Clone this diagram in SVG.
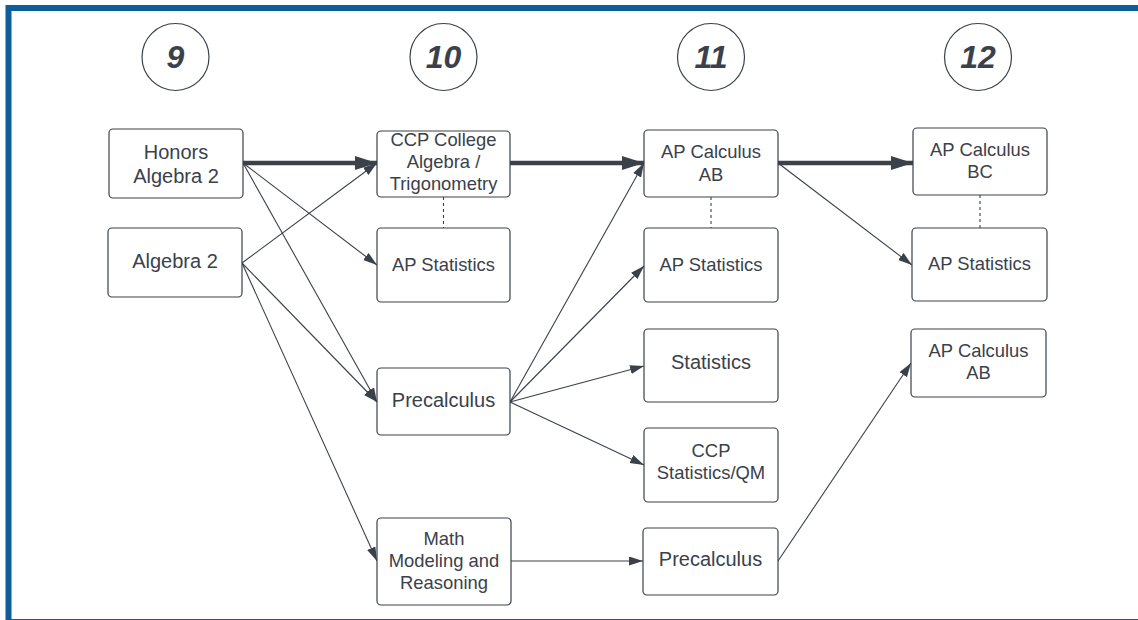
<svg xmlns="http://www.w3.org/2000/svg" width="1138" height="620" viewBox="0 0 1138 620">
<style>
  .frame{fill:#ffffff;stroke:#0c5f99;stroke-width:6}
  .box{fill:#ffffff;stroke:#3a414a;stroke-width:1.2}
  .circ{fill:#ffffff;stroke:#3a414a;stroke-width:1.2}
  text{font-family:"Liberation Sans",Arial,sans-serif;fill:#3a414a;text-anchor:middle}
  .t20{font-size:20px}
  .t18{font-size:18.4px}
  .t17{font-size:18.4px}
  .num{font-size:32px;font-weight:bold;font-style:italic}
  .thin{fill:none;stroke:#3a414a;stroke-width:1.1;marker-end:url(#ah)}
  .thick{fill:none;stroke:#3a414a;stroke-width:4.5;marker-end:url(#ahb)}
  .dash{fill:none;stroke:#3a414a;stroke-width:1.1;stroke-dasharray:3 3}
</style>
<defs>
  <marker id="ah" markerUnits="userSpaceOnUse" markerWidth="15" markerHeight="10" refX="14" refY="4.5" orient="auto">
    <path d="M0,0 L14,4.5 L0,9 z" fill="#3a414a"/>
  </marker>
  <marker id="ahb" markerUnits="userSpaceOnUse" markerWidth="23" markerHeight="15" refX="22" refY="7" orient="auto">
    <path d="M0,0 L22,7 L0,14 z" fill="#3a414a"/>
  </marker>
</defs>
<rect class="frame" x="8.5" y="8" width="1140" height="614"/>

<g id="grade9"><circle class="circ" cx="175.5" cy="57" r="33.5"/><text class="num" x="175.5" y="68">9</text></g>
<g id="grade10"><circle class="circ" cx="443.5" cy="57" r="33.5"/><text class="num" x="443.5" y="68">10</text></g>
<g id="grade11"><circle class="circ" cx="711" cy="57" r="33.5"/><text class="num" x="711" y="68">11</text></g>
<g id="grade12"><circle class="circ" cx="978" cy="57" r="33.5"/><text class="num" x="978" y="68">12</text></g>

<g id="connectors">
  <line class="thick" x1="243" y1="163" x2="377" y2="163"/>
  <line class="thick" x1="510" y1="163" x2="644" y2="163"/>
  <line class="thick" x1="778" y1="163" x2="913" y2="163"/>
  <line class="thin" x1="243" y1="163" x2="377" y2="265"/>
  <line class="thin" x1="243" y1="163" x2="377" y2="402"/>
  <line class="thin" x1="242" y1="263" x2="377" y2="163"/>
  <line class="thin" x1="242" y1="263" x2="377" y2="402"/>
  <line class="thin" x1="242" y1="263" x2="377" y2="561"/>
  <line class="thin" x1="510" y1="402" x2="644" y2="163"/>
  <line class="thin" x1="510" y1="402" x2="644" y2="266"/>
  <line class="thin" x1="510" y1="402" x2="644" y2="366"/>
  <line class="thin" x1="510" y1="402" x2="644" y2="465"/>
  <line class="thin" x1="778" y1="163" x2="912" y2="265"/>
  <line class="thin" x1="511" y1="561" x2="643" y2="561"/>
  <line class="thin" x1="778" y1="561" x2="911" y2="363"/>
  <line class="dash" x1="443.5" y1="197" x2="443.5" y2="228"/>
  <line class="dash" x1="711" y1="197" x2="711" y2="228"/>
  <line class="dash" x1="980" y1="195" x2="980" y2="228"/>
</g>

<g id="honors-algebra2"><rect class="box" x="109" y="129" width="134" height="69" rx="4"/><text class="t20" x="176" y="159">Honors</text><text class="t20" x="176" y="183">Algebra 2</text></g>
<g id="algebra2"><rect class="box" x="108" y="228" width="134" height="69" rx="4"/><text class="t20" x="175" y="268">Algebra 2</text></g>

<g id="ccp-college-algebra"><rect class="box" x="377" y="131" width="133" height="66" rx="4"/><text class="t18" x="443.5" y="146">CCP College</text><text class="t18" x="443.5" y="168">Algebra /</text><text class="t18" x="443.5" y="190">Trigonometry</text></g>
<g id="ap-statistics-10"><rect class="box" x="377" y="228" width="133" height="74" rx="4"/><text class="t17" x="443.5" y="271">AP Statistics</text></g>
<g id="precalculus-10"><rect class="box" x="377" y="368" width="133" height="67" rx="4"/><text class="t20" x="443.5" y="407">Precalculus</text></g>
<g id="math-modeling"><rect class="box" x="377" y="518" width="134" height="87" rx="4"/><text class="t18" x="444" y="545">Math</text><text class="t18" x="444" y="567">Modeling and</text><text class="t18" x="444" y="589">Reasoning</text></g>

<g id="ap-calculus-ab-11"><rect class="box" x="644" y="130" width="134" height="67" rx="4"/><text class="t18" x="711" y="158">AP Calculus</text><text class="t18" x="711" y="181">AB</text></g>
<g id="ap-statistics-11"><rect class="box" x="644" y="228" width="134" height="74" rx="4"/><text class="t17" x="711" y="271">AP Statistics</text></g>
<g id="statistics"><rect class="box" x="644" y="329" width="134" height="73" rx="4"/><text class="t20" x="711" y="369">Statistics</text></g>
<g id="ccp-statistics-qm"><rect class="box" x="644" y="428" width="134" height="74" rx="4"/><text class="t18" x="711" y="457">CCP</text><text class="t18" x="711" y="479">Statistics/QM</text></g>
<g id="precalculus-11"><rect class="box" x="643" y="528" width="135" height="67" rx="4"/><text class="t20" x="710.5" y="566">Precalculus</text></g>

<g id="ap-calculus-bc"><rect class="box" x="913" y="128" width="134" height="67" rx="4"/><text class="t18" x="980" y="156">AP Calculus</text><text class="t18" x="980" y="178">BC</text></g>
<g id="ap-statistics-12"><rect class="box" x="912" y="228" width="135" height="73" rx="4"/><text class="t17" x="979.5" y="270">AP Statistics</text></g>
<g id="ap-calculus-ab-12"><rect class="box" x="911" y="329" width="135" height="68" rx="4"/><text class="t18" x="978.5" y="357">AP Calculus</text><text class="t18" x="978.5" y="379">AB</text></g>
</svg>
